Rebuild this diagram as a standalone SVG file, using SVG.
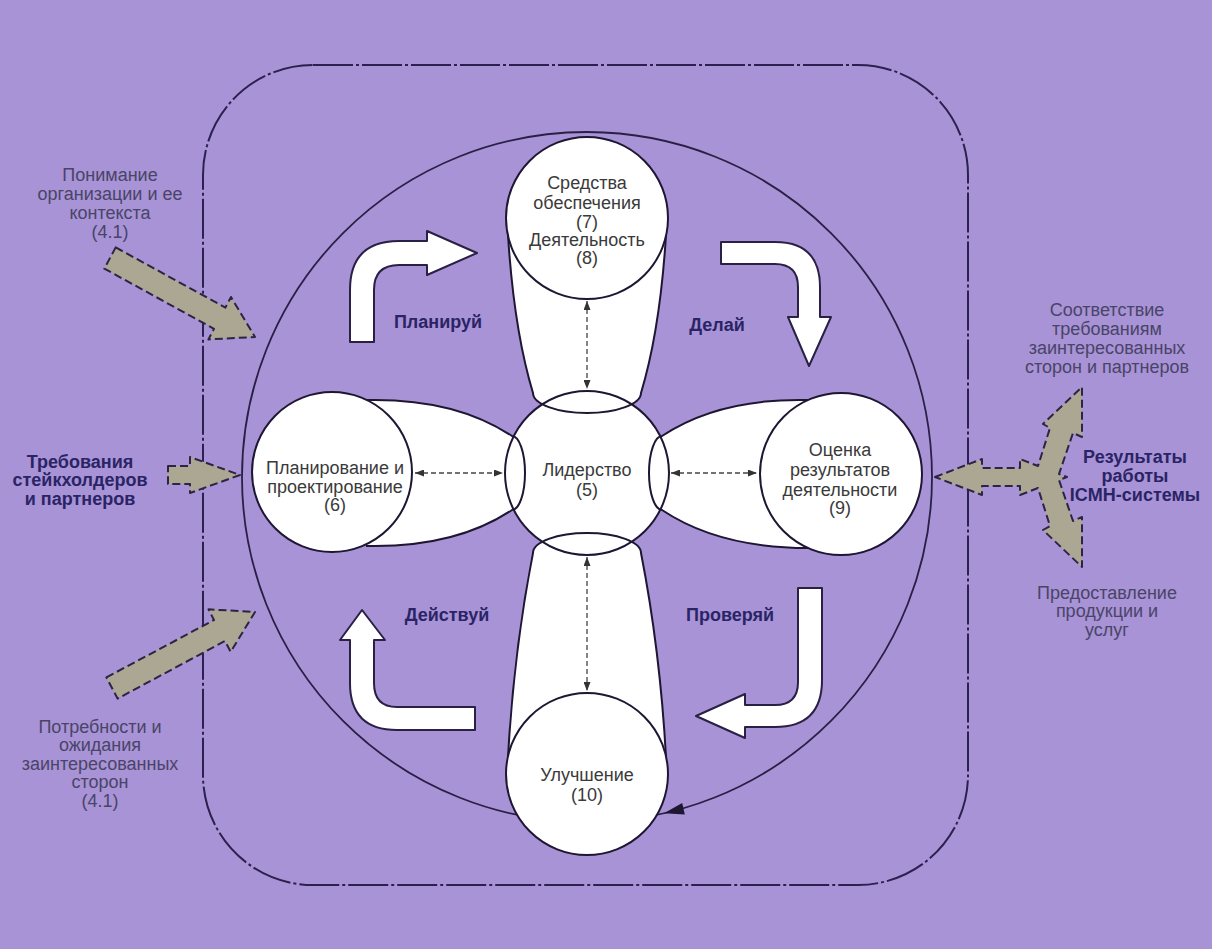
<svg xmlns="http://www.w3.org/2000/svg" width="1212" height="949" viewBox="0 0 1212 949">
<defs>
<style>
.t{font-family:"Liberation Sans",Arial,sans-serif;font-size:18px;text-anchor:middle;fill:#4a4468}
.n{font-family:"Liberation Sans",Arial,sans-serif;font-size:18px;text-anchor:middle;fill:#3a3a3a}
.b{font-family:"Liberation Sans",Arial,sans-serif;font-size:18px;font-weight:bold;text-anchor:middle;fill:#2a2466}
.gray{fill:#aba792;stroke:#2c2444;stroke-width:2;stroke-dasharray:8 4;stroke-linejoin:round}
.white{fill:#ffffff;stroke:#2a1f45;stroke-width:2;stroke-linejoin:round}
.node{fill:#ffffff;stroke:#1e1633;stroke-width:2}
.edge{fill:none;stroke:#1e1633;stroke-width:2}
.body{fill:#ffffff;stroke:none}
.dash{fill:none;stroke:#444444;stroke-width:1.3;stroke-dasharray:5 3;marker-start:url(#ah);marker-end:url(#ah)}
</style>
<marker id="ah" markerUnits="userSpaceOnUse" markerWidth="9" markerHeight="7" refX="9" refY="3.5" orient="auto-start-reverse"><path d="M0,0 L9,3.5 L0,7 Z" fill="#333333"/></marker>
</defs>
<rect x="0" y="0" width="1212" height="949" fill="#a793d5"/>
<g id="boundary">
<rect x="203" y="65" width="765" height="820" rx="110" ry="110" fill="none" stroke="#2c2050" stroke-width="2" stroke-dasharray="40 3 3 3"/>
</g>
<g id="connectors">
<circle cx="587" cy="477" r="345" fill="none" stroke="#2a1f45" stroke-width="1.8"/>
<polygon points="664,813.3 684.8,814.6 682.2,802.9" fill="#1e1633"/>
<polygon class="gray" points="115.7,247.4 225.4,307.6 231,297 255,337 208.4,339.4 214,328.8 104.3,268.6"/>
<polygon class="gray" points="168,466 190,466 190,457 240,475 190,493 190,484 168,484"/>
<polygon class="gray" points="106.4,677.4 214,620 208.5,609.3 255,612 230.7,651.9 225,641 117.6,698.6"/>
<polygon class="gray" points="935,477 982,459 982,468 1020,468 1020,459 1038,466 1050,428 1043,424 1082,387 1082,437 1073,433 1059,474 1067,477 1059,480 1073,521 1082,517 1082,567 1043,530 1050,526 1038,488 1020,495 1020,486 982,486 982,495"/>
<path class="white" d="M350,342 L350,290 Q350,241 399,241 L427,241 L427,231 L477,253 L427,275 L427,265 L399,265 Q374,265 374,290 L374,342 Z"/>
<path class="white" d="M721,242 L775,242 Q820,242 820,287 L820,317 L831,317 L809,366 L788,317 L798,317 L798,287 Q798,264 775,264 L721,264 Z"/>
<path class="white" d="M798,588 L822,588 L822,680 Q822,727 775,727 L745,727 L745,738 L696,716 L745,694 L745,705 L775,705 Q798,705 798,682 Z"/>
<path class="white" d="M475,707 L475,730 L397,730 Q350,730 350,683 L350,640 L340,640 L362,610 L385,640 L374,640 L374,683 Q374,707 397,707 Z"/>
</g>
<g id="labels">
<text class="b" x="438" y="328">Планируй</text>
<text class="b" x="717" y="331">Делай</text>
<text class="b" x="730" y="621">Проверяй</text>
<text class="b" x="447" y="621">Действуй</text>
<text class="t" x="110" y="181">Понимание</text>
<text class="t" x="110" y="200">организации и ее</text>
<text class="t" x="110" y="219">контекста</text>
<text class="t" x="110" y="238">(4.1)</text>
<text class="b" x="80" y="468">Требования</text>
<text class="b" x="80" y="486">стейкхолдеров</text>
<text class="b" x="80" y="505">и партнеров</text>
<text class="t" x="100" y="733">Потребности и</text>
<text class="t" x="100" y="751">ожидания</text>
<text class="t" x="100" y="770">заинтересованных</text>
<text class="t" x="100" y="788">сторон</text>
<text class="t" x="100" y="807">(4.1)</text>
<text class="t" x="1107" y="316">Соответствие</text>
<text class="t" x="1107" y="335">требованиям</text>
<text class="t" x="1107" y="354">заинтересованных</text>
<text class="t" x="1107" y="373">сторон и партнеров</text>
<text class="b" x="1135" y="463">Результаты</text>
<text class="b" x="1135" y="482">работы</text>
<text class="b" x="1135" y="501">ICMH-системы</text>
<text class="t" x="1107" y="599">Предоставление</text>
<text class="t" x="1107" y="617">продукции и</text>
<text class="t" x="1107" y="636">услуг</text>
</g>
<g id="cylinders">
<circle cx="587" cy="473" r="82" fill="#ffffff"/>
<path class="body" d="M508,235 Q514,330 533,393 A54 20 0 0 0 641,393 Q660,330 666,235 Z"/>
<path class="body" d="M533,553 A54 20 0 0 1 641,553 Q660,650 666,757 L508,757 Q514,650 533,553 Z"/>
<path class="body" d="M366,400 Q455,398 512,436 A13 37 0 0 1 512,510 Q455,548 366,546 Z"/>
<path class="body" d="M808,400 Q719,398 662,436 A13 37 0 0 0 662,510 Q719,548 808,548 Z"/>
<path class="edge" d="M508,235 Q514,330 533,393 A54 20 0 0 0 641,393 Q660,330 666,235"/>
<path class="edge" d="M508,757 Q514,650 533,553 A54 20 0 0 1 641,553 Q660,650 666,757"/>
<path class="edge" d="M366,400 Q455,398 512,436 A13 37 0 0 1 512,510 Q455,548 366,546"/>
<path class="edge" d="M808,400 Q719,398 662,436 A13 37 0 0 0 662,510 Q719,548 808,548"/>
</g>
<g id="node-5">
<circle cx="587" cy="473" r="82" fill="none" stroke="#1e1633" stroke-width="2"/>
<text class="n" x="587" y="476">Лидерство</text>
<text class="n" x="587" y="496">(5)</text>
</g>
<g id="node-7">
<circle class="node" cx="587" cy="218" r="81"/>
<text class="n" x="587" y="189">Средства</text>
<text class="n" x="587" y="209">обеспечения</text>
<text class="n" x="587" y="228">(7)</text>
<text class="n" x="587" y="246">Деятельность</text>
<text class="n" x="587" y="264">(8)</text>
</g>
<g id="node-6">
<circle class="node" cx="332" cy="472" r="80"/>
<text class="n" x="335" y="474">Планирование и</text>
<text class="n" x="335" y="493">проектирование</text>
<text class="n" x="335" y="511">(6)</text>
</g>
<g id="node-9">
<circle class="node" cx="841" cy="474" r="81"/>
<text class="n" x="840" y="456">Оценка</text>
<text class="n" x="840" y="476">результатов</text>
<text class="n" x="840" y="496">деятельности</text>
<text class="n" x="840" y="514">(9)</text>
</g>
<g id="node-10">
<circle class="node" cx="587" cy="774" r="81"/>
<text class="n" x="587" y="781">Улучшение</text>
<text class="n" x="587" y="801">(10)</text>
</g>
<g id="links">
<line class="dash" x1="587" y1="301" x2="587" y2="389"/>
<line class="dash" x1="415" y1="473" x2="503" y2="473"/>
<line class="dash" x1="671" y1="473" x2="757" y2="473"/>
<line class="dash" x1="587" y1="557" x2="587" y2="691"/>
</g>
</svg>
